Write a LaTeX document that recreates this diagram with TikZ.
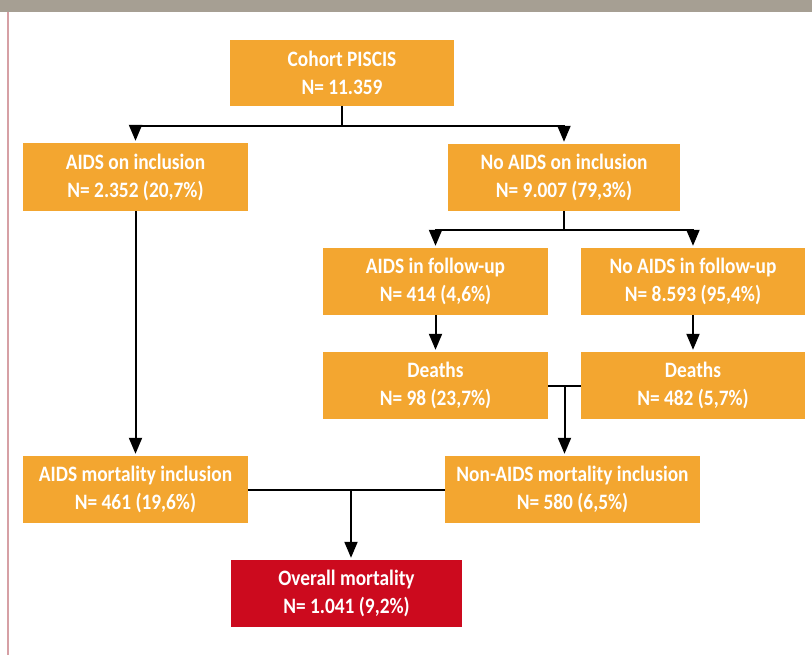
\documentclass[tikz,border=0pt]{standalone}
\usepackage{fontspec}
\setmainfont{Carlito}[FakeStretch=0.88]
\usetikzlibrary{arrows.meta,calc}
\definecolor{boxorange}{RGB}{243,166,48}
\definecolor{boxred}{RGB}{204,10,30}
\definecolor{bargrey}{RGB}{166,159,147}
\definecolor{pinkline}{RGB}{214,160,165}
\tikzset{
  box/.style={fill=boxorange, draw=none, inner sep=0pt, align=center, text=white,
    font=\bfseries\fontsize{22}{28}\selectfont},
  redbox/.style={box, fill=boxred},
  conn/.style={line width=2pt, draw=black},
  arr/.style={conn, -{Triangle[width=13pt,length=16pt]}, shorten >=2pt},
}
\begin{document}
\begin{tikzpicture}[x={(1pt,0)}, y={(0,-1pt)}]
\useasboundingbox (0,0) rectangle (812,655);
\fill[white] (0,0) rectangle (812,655);
\fill[bargrey] (0,0) rectangle (812,12);
\draw[pinkline, line width=1.3pt] (8,12) -- (8,655);

\node[box, minimum width=224pt, minimum height=66pt] (cohort) at (342,73) {Cohort PISCIS\\N= 11.359};
\node[box, minimum width=225pt, minimum height=68pt] (aidsinc) at (135.5,177) {AIDS on inclusion\\N= 2.352 (20,7\%)};
\node[box, minimum width=232pt, minimum height=67pt] (noaidsinc) at (564,177.5) {No AIDS on inclusion\\N= 9.007 (79,3\%)};
\node[box, minimum width=225pt, minimum height=67pt] (aidsfu) at (435.5,281.5) {AIDS in follow-up\\N= 414 (4,6\%)};
\node[box, minimum width=224pt, minimum height=67pt] (noaidsfu) at (693,281.5) {No AIDS in follow-up\\N= 8.593 (95,4\%)};
\node[box, minimum width=225pt, minimum height=67pt] (death1) at (435.5,385.5) {Deaths\\N= 98 (23,7\%)};
\node[box, minimum width=224pt, minimum height=67pt] (death2) at (693,385.5) {Deaths\\N= 482 (5,7\%)};
\node[box, minimum width=225pt, minimum height=67pt] (aidsmort) at (135.5,489.5) {AIDS mortality inclusion\\N= 461 (19,6\%)};
\node[box, minimum width=255pt, minimum height=67pt] (nonaidsmort) at (572.5,489.5) {Non-AIDS mortality inclusion\\N= 580 (6,5\%)};
\node[redbox, minimum width=231pt, minimum height=67pt] (overall) at (346.5,593.5) {Overall mortality\\N= 1.041 (9,2\%)};

% Cohort split
\coordinate (j1) at (342,126);
\draw[conn] (cohort.south) -- (j1);
\draw[arr] (j1) -| (aidsinc.north);
\draw[arr] (j1) -| (noaidsinc.north);

% No AIDS split
\coordinate (j2) at (564,230);
\draw[conn] (noaidsinc.south) -- (j2);
\draw[arr] (j2) -| (aidsfu.north);
\draw[arr] (j2) -| (noaidsfu.north);

% to deaths
\draw[arr] (aidsfu) -- (death1);
\draw[arr] (noaidsfu) -- (death2);

% deaths merge
\draw[conn] (death1.east) -- (death2.west);
\coordinate (j3) at ($(death1.east)!0.5!(death2.west)$);
\draw[arr] (j3) -- (j3 |- nonaidsmort.north);

% AIDS on inclusion to AIDS mortality
\draw[arr] (aidsinc) -- (aidsmort);

% merge to overall
\draw[conn] (aidsmort.east) -- (nonaidsmort.west);
\coordinate (j4x) at (351,0);
\draw[arr] (aidsmort.east -| j4x) -- (j4x |- overall.north);
\end{tikzpicture}
\end{document}
